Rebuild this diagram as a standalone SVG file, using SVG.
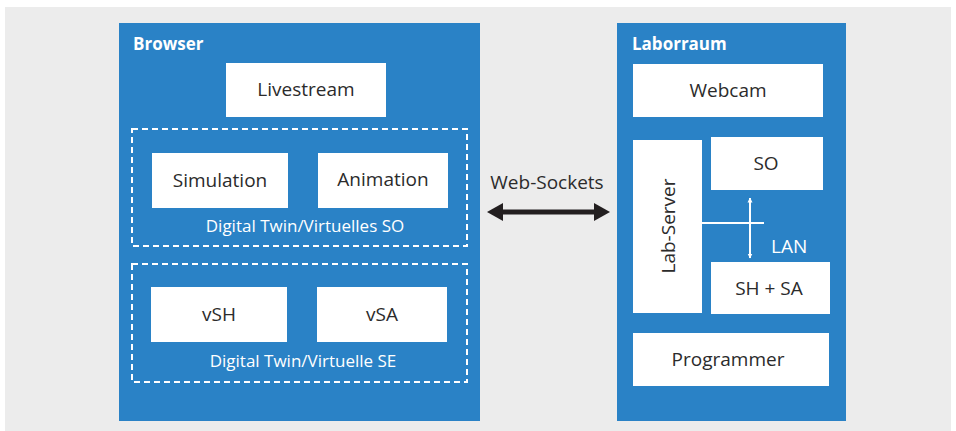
<svg xmlns="http://www.w3.org/2000/svg" width="956" height="431" viewBox="0 0 956 431">
<style>
.bg{fill:#ececec}
.panel{fill:#2a82c6}
.box{fill:#ffffff}
.dash{fill:none;stroke:#ffffff;stroke-width:2;stroke-dasharray:6 4}
.t{font-family:"Open Sans","Liberation Sans",sans-serif;font-size:19px;fill:#2b2b2b;text-anchor:middle}
.h{font-family:"Open Sans","Liberation Sans",sans-serif;font-size:17px;font-weight:bold;fill:#ffffff}
.w{font-family:"Open Sans","Liberation Sans",sans-serif;font-size:17px;fill:#ffffff;text-anchor:middle}
.wl{stroke:#ffffff;stroke-width:2;fill:none}
</style>
<defs>
<marker id="wa" viewBox="0 0 10 10" refX="9" refY="5" markerWidth="5" markerHeight="7" markerUnits="userSpaceOnUse" orient="auto-start-reverse">
<path d="M0,0 L10,5 L0,10 Z" fill="#ffffff"/>
</marker>
</defs>
<rect class="bg" x="5" y="7" width="946" height="424"/>

<g id="browser">
<rect class="panel" x="119" y="23" width="361" height="398"/>
<text class="h" x="133" y="50">Browser</text>
</g>
<g id="livestream">
<rect class="box" x="226" y="63" width="160" height="54"/>
<text class="t" x="306" y="96">Livestream</text>
</g>
<g id="digital-twin-so">
<rect class="dash" x="132" y="129" width="335" height="117"/>
<text class="w" x="305" y="232">Digital Twin/Virtuelles SO</text>
</g>
<g id="simulation">
<rect class="box" x="152" y="153" width="136" height="55"/>
<text class="t" x="220" y="187">Simulation</text>
</g>
<g id="animation">
<rect class="box" x="318" y="153" width="130" height="55"/>
<text class="t" x="383" y="186">Animation</text>
</g>
<g id="digital-twin-se">
<rect class="dash" x="132" y="264" width="335" height="118"/>
<text class="w" x="303" y="367">Digital Twin/Virtuelle SE</text>
</g>
<g id="vsh">
<rect class="box" x="151" y="287" width="136" height="55"/>
<text class="t" x="219" y="321">vSH</text>
</g>
<g id="vsa">
<rect class="box" x="317" y="287" width="130" height="55"/>
<text class="t" x="382" y="321">vSA</text>
</g>

<g id="laborraum">
<rect class="panel" x="617" y="23" width="229" height="398"/>
<text class="h" x="632" y="50">Laborraum</text>
</g>
<g id="webcam">
<rect class="box" x="633" y="64" width="190" height="53"/>
<text class="t" x="728" y="97">Webcam</text>
</g>
<g id="lab-server">
<rect class="box" x="633" y="140" width="69" height="173"/>
<text class="t" transform="translate(675,226) rotate(-90)">Lab-Server</text>
</g>
<g id="so">
<rect class="box" x="711" y="137" width="112" height="53"/>
<text class="t" x="766" y="170">SO</text>
</g>
<g id="sh-sa">
<rect class="box" x="711" y="262" width="119" height="52"/>
<text class="t" x="769" y="295">SH + SA</text>
</g>
<g id="programmer">
<rect class="box" x="633" y="333" width="196" height="53"/>
<text class="t" x="728" y="366">Programmer</text>
</g>

<g id="connectors">
<text class="t" x="547" y="189">Web-Sockets</text>
<line x1="497" y1="212" x2="600" y2="212" stroke="#231f20" stroke-width="5"/>
<path d="M487,212 L503,203 L503,221 Z" fill="#231f20"/>
<path d="M610,212 L594,203 L594,221 Z" fill="#231f20"/>
<line class="wl" x1="702" y1="223" x2="764" y2="223"/>
<line class="wl" x1="750" y1="198" x2="750" y2="258" marker-start="url(#wa)" marker-end="url(#wa)"/>
<text class="w" x="771" y="253" style="text-anchor:start;font-size:19px">LAN</text>
</g>
</svg>
